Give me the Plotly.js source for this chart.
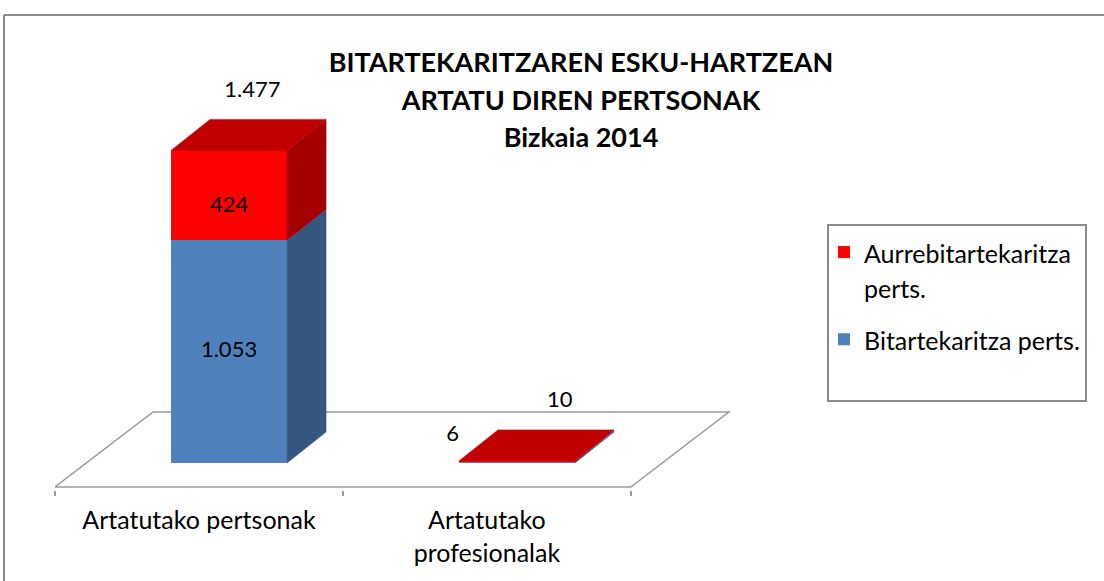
<!DOCTYPE html>
<html>
<head>
<meta charset="utf-8">
<script src="https://cdn.plot.ly/plotly-3.0.1.min.js"></script>
<style>html,body{margin:0;padding:0;background:#fff;}#chart{width:1104px;height:581px;}</style>
</head>
<body>
<div id="chart"></div>
<script>
// ---- data ----
const categories = ['Artatutako pertsonak', 'Artatutako<br>profesionalak'];
const seriesNames = ['Bitartekaritza perts.', 'Aurrebitartekaritza<br>perts.'];
const bitartekaritza = [1053, 6];
const aurrebitartekaritza = [424, 4];
const totals = [1477, 10];

// ---- geometry (pixel mapping of the plot) ----
const W = 1104, H = 581;
const M = {l: 55, r: 358, t: 80, b: 91};
const plotW = W - M.l - M.r, plotH = H - M.t - M.b;
const xRange = [-0.5, 1.9];
const yRange = [-127.6, 1809.6];
const pxPerX = plotW / (xRange[1] - xRange[0]);
const pxPerY = plotH / (yRange[1] - yRange[0]);
const barOffset = -0.097, barWidth = 0.403;
const depthX = 39 / pxPerX, depthY = 31 / pxPerY;
const floorFrontY = -24 / pxPerY, floorDX = 98 / pxPerX, floorDY = 75 / pxPerY;
const px2paperX = p => (p - M.l) / plotW;
const px2paperY = p => (H - M.b - p) / plotH;

const xs = categories.map((c, i) => i);
const font = 'Lato, "Open Sans", sans-serif';
const colors = {
  blue: '#4F81BD', blueSide: '#35577F',
  red: '#FF0000', redSide: '#A50000', redTop: '#C00000'
};
const leg = s => `<span style="font-size:25px">${s}</span>`;

const traces = [];
// front faces: stacked bars
traces.push({
  type: 'bar', name: leg(seriesNames[0]), x: xs, y: bitartekaritza,
  offset: barOffset, width: barWidth, legendgroup: 'b', legendrank: 2,
  marker: {color: colors.blue, line: {width: 0}}, hoverinfo: 'skip'
});
traces.push({
  type: 'bar', name: seriesNames[1].split('<br>').map(leg).join('<br>'), x: xs, y: aurrebitartekaritza,
  offset: barOffset, width: barWidth, legendgroup: 'a', legendrank: 1,
  marker: {color: colors.red, line: {width: 0}}, hoverinfo: 'skip'
});

function poly(px, py, color) {
  return {type: 'scatter', mode: 'lines', x: px, y: py, fill: 'toself',
    fillcolor: color, line: {color: color, width: 0.5}, showlegend: false, hoverinfo: 'skip'};
}
// side and top faces derived from the data
xs.forEach((xc, i) => {
  const xl = xc + barOffset, xr = xl + barWidth;
  const segs = [
    [0, bitartekaritza[i], colors.blueSide],
    [bitartekaritza[i], bitartekaritza[i] + aurrebitartekaritza[i], colors.redSide]
  ];
  segs.forEach(([b, t, c]) => {
    traces.push(poly([xr, xr + depthX, xr + depthX, xr, xr], [b, b + depthY, t + depthY, t, b], c));
  });
  const T = bitartekaritza[i] + aurrebitartekaritza[i];
  traces.push(poly([xl, xr, xr + depthX, xl + depthX, xl], [T, T, T + depthY, T + depthY, T], colors.redTop));
});

// value labels
const labelFont = {family: font, size: 22, color: '#000'};
function labelTrace(x, y, cd, pos) {
  return {type: 'scatter', mode: 'text', x: x, y: y, customdata: cd,
    texttemplate: '%{customdata:,.0f}', textposition: pos, textfont: labelFont,
    cliponaxis: false, showlegend: false, hoverinfo: 'skip'};
}
const frontC = i => xs[i] + barOffset + barWidth / 2;
traces.push(labelTrace([frontC(0)], [bitartekaritza[0] / 2], [bitartekaritza[0]], 'middle center'));
traces.push(labelTrace([frontC(0)], [bitartekaritza[0] + aurrebitartekaritza[0] / 2], [aurrebitartekaritza[0]], 'bottom center'));
traces.push(labelTrace([xs[1] + barOffset], [bitartekaritza[1] + depthY * 0.85], [bitartekaritza[1]], 'middle left'));
traces.push(labelTrace(
  xs.map(i => frontC(i) + (0.6 + 0.5 * i) * depthX),
  totals.map(t => t + depthY + 28 / pxPerY), totals, 'middle center'));

// floor outline
const fx0 = xRange[0], fx1 = 1.5;
const floorPath = `M${fx0},${floorFrontY} L${fx1},${floorFrontY} L${fx1 + floorDX},${floorFrontY + floorDY} L${fx0 + floorDX},${floorFrontY + floorDY} Z`;

const sp = s => `<span style="font-size:27px">${s}</span>`;
const layout = {
  width: W, height: H, margin: M,
  paper_bgcolor: '#fff', plot_bgcolor: 'rgba(0,0,0,0)',
  separators: ',.',
  barmode: 'stack',
  showlegend: true,
  font: {family: font, color: '#000'},
  title: {
    text: sp('BITARTEKARITZAREN ESKU-HARTZEAN') + '<br>' + sp('ARTATU DIREN PERTSONAK') + '<br>' + sp('Bizkaia 2014'),
    font: {family: font, size: 29, weight: 'bold', color: '#000'},
    x: 581 / W, xanchor: 'center', xref: 'container',
    y: 1 - 72 / H, yanchor: 'top', yref: 'container'
  },
  xaxis: {
    range: xRange, showgrid: false, zeroline: false, showline: false,
    tickmode: 'array', tickvals: xs, ticktext: categories, ticks: '',
    ticklabelstandoff: 13,
    tickfont: {family: font, size: 25, color: '#000'},
    minor: {tickmode: 'array', tickvals: [-0.5, 0.5, 1.5], ticks: 'outside', ticklen: 5, tickwidth: 2, tickcolor: '#999', showgrid: false},
    fixedrange: true
  },
  yaxis: {range: yRange, visible: false, showgrid: false, zeroline: false, fixedrange: true},
  legend: {
    x: px2paperX(824), xanchor: 'left', y: px2paperY(228), yanchor: 'top',
    bgcolor: 'rgba(0,0,0,0)', borderwidth: 0,
    traceorder: 'grouped', tracegroupgap: 14, valign: 'top',
    font: {family: font, size: 27, color: '#000'}
  },
  shapes: [
    {type: 'path', xref: 'x', yref: 'y', path: floorPath, layer: 'below', line: {color: '#9A9A9A', width: 1.5}},
    {type: 'line', xref: 'paper', yref: 'paper', x0: px2paperX(4), x1: px2paperX(1104), y0: px2paperY(15), y1: px2paperY(15), line: {color: '#8A8A8A', width: 2}},
    {type: 'line', xref: 'paper', yref: 'paper', x0: px2paperX(4), x1: px2paperX(4), y0: px2paperY(15), y1: px2paperY(581), line: {color: '#8A8A8A', width: 2}},
    {type: 'rect', xref: 'paper', yref: 'paper', x0: px2paperX(828), x1: px2paperX(1086), y0: px2paperY(401), y1: px2paperY(225), line: {color: '#8A8A8A', width: 2}, fillcolor: 'rgba(0,0,0,0)'}
  ]
};

Plotly.newPlot('chart', traces, layout, {displayModeBar: false, staticPlot: true});
</script>
</body>
</html>
